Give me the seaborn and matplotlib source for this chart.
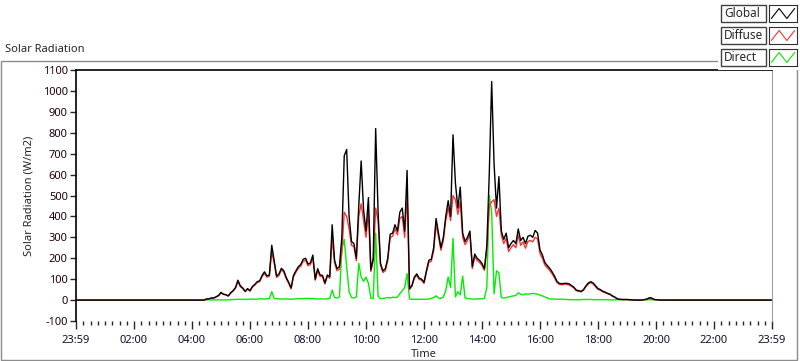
import numpy as np
import pandas as pd
import matplotlib
matplotlib.use("Agg")
import matplotlib.pyplot as plt
from matplotlib.patches import Rectangle
import seaborn as sns

# 5-minute samples, first sample at 04:25, last at 20:10
START_TIME = "04:25"
SERIES = ["Global", "Diffuse", "Direct"]
COLORS = ["#000000", "#ff3333", "#00ee00"]

global_rad = [
    0, 5, 6, 10, 10, 16, 22,
    37, 28, 26, 20, 35, 45, 60, 95, 68, 58, 42, 55,
    45, 65, 75, 88, 92, 118, 135, 115, 120, 262, 190, 115,
    125, 152, 140, 108, 85, 58, 118, 140, 160, 170, 195, 200,
    172, 178, 215, 100, 150, 120, 118, 82, 120, 112, 360, 190,
    150, 160, 300, 690, 720, 400, 280, 270, 200, 450, 665, 430,
    330, 490, 145, 200, 820, 420, 175, 140, 150, 200, 315, 320,
    360, 330, 420, 440, 330, 620, 55, 70, 110, 125, 105, 100,
    85, 140, 190, 195, 250, 390, 320, 250, 300, 400, 475, 400,
    790, 560, 440, 540, 320, 280, 300, 330, 160, 220, 200, 190,
    175, 150, 260, 600, 1045, 650, 440, 590, 330, 290, 320, 250,
    270, 285, 270, 340, 285, 300, 270, 305, 310, 300, 333, 320,
    240, 215, 180, 165, 152, 135, 115, 90, 80, 78, 80, 80,
    78, 70, 62, 48, 45, 42, 50, 68, 82, 88, 82, 68,
    55, 50, 42, 38, 32, 28, 20, 14, 6, 4, 3, 3,
    3, 2, 1, 0, 0, 0, 0, 2, 4, 10, 11, 4,
    2, 1, 0,
]

diffuse_rad = [
    0, 5, 6, 9, 10, 15, 21,
    34, 27, 25, 19, 33, 43, 57, 88, 64, 55, 40, 52,
    43, 62, 72, 84, 88, 112, 128, 110, 114, 230, 178, 108,
    118, 145, 133, 102, 80, 54, 112, 133, 152, 162, 185, 190,
    164, 170, 200, 95, 142, 113, 112, 77, 113, 105, 300, 178,
    140, 148, 230, 420, 400, 340, 262, 255, 188, 400, 460, 380,
    300, 420, 136, 190, 440, 380, 165, 132, 140, 188, 300, 305,
    340, 312, 390, 400, 300, 510, 50, 66, 104, 118, 99, 95,
    80, 133, 180, 185, 235, 365, 300, 238, 285, 380, 440, 380,
    500, 480, 410, 470, 300, 265, 285, 315, 150, 208, 190, 180,
    165, 142, 240, 450, 470, 480, 400, 440, 310, 270, 295, 232,
    250, 265, 250, 310, 262, 278, 248, 280, 285, 278, 300, 292,
    222, 200, 168, 154, 142, 126, 107, 84, 75, 73, 75, 75,
    73, 66, 58, 45, 42, 39, 47, 64, 77, 83, 77, 64,
    51, 47, 39, 35, 30, 26, 18, 13, 5, 3, 2, 2,
    2, 1, 1, 0, 0, 0, 0, 2, 3, 8, 9, 3,
    1, 1, 0,
]

direct_rad = [
    0, 1, 1, 1, 1, 1, 1,
    1, 1, 1, 1, 2, 3, 3, 4, 3, 4, 3, 4,
    4, 5, 4, 5, 6, 6, 5, 6, 7, 40, 8, 6,
    6, 5, 5, 6, 5, 4, 5, 6, 7, 6, 7, 8,
    8, 7, 8, 6, 5, 6, 6, 5, 6, 8, 48, 12,
    10, 15, 240, 290, 160, 40, 12, 10, 15, 175, 110, 90,
    110, 80, 10, 8, 320, 20, 6, 8, 10, 12, 10, 14,
    12, 14, 30, 45, 60, 127, 5, 4, 4, 4, 4, 4,
    4, 4, 5, 8, 12, 20, 10, 8, 15, 45, 110, 60,
    295, 15, 40, 25, 115, 10, 8, 6, 5, 5, 5, 6,
    6, 8, 60, 500, 420, 30, 140, 130, 12, 10, 12, 15,
    18, 20, 22, 35, 28, 25, 30, 28, 30, 32, 30, 28,
    24, 20, 15, 10, 6, 5, 5, 4, 4, 4, 3, 3,
    2, 2, 2, 2, 2, 2, 3, 3, 3, 3, 2, 2,
    2, 2, 2, 2, 2, 1, 1, 1, 2, 2, 2, 2,
    2, 2, 1, 0, 0, 0, 0, 1, 1, 2, 2, 1,
    1, 1, 0,
]

# night readings at the ends of the day
DAY_START_H = 0.0
DAY_END_H = 23 + 59 / 60
NIGHT_VALUE = 0

x_tick_labels = ["23:59", "02:00", "04:00", "06:00", "08:00", "10:00", "12:00",
                 "14:00", "16:00", "18:00", "20:00", "22:00", "23:59"]
y_ticks = list(range(-100, 1101, 100))

# build long table
h0, m0 = map(int, START_TIME.split(":"))
hours = h0 + m0 / 60 + np.arange(len(global_rad)) * 5 / 60
frames = []
for name, vals in zip(SERIES, [global_rad, diffuse_rad, direct_rad]):
    t = np.concatenate([[DAY_START_H], hours, [DAY_END_H]])
    v = np.concatenate([[NIGHT_VALUE], vals, [NIGHT_VALUE]])
    frames.append(pd.DataFrame({"hour": t, "value": v, "series": name}))
df = pd.concat(frames, ignore_index=True)

sns.set_style("white")
plt.rcParams["font.family"] = ["Noto Sans", "DejaVu Sans"]
plt.rcParams["font.size"] = 8

fig = plt.figure(figsize=(8, 3.61), dpi=100)
ax = fig.add_axes([76 / 800, 1 - 321 / 361, (772 - 76) / 800, (321 - 70) / 361])

# direct first, global on top
for name, col in zip(reversed(SERIES), reversed(COLORS)):
    sns.lineplot(data=df[df.series == name], x="hour", y="value", color=col,
                 lw=1, ax=ax, estimator=None, legend=False)

ax.set_xlim(0, 24)
ax.set_ylim(-100, 1100)
ax.set_yticks(y_ticks)
ax.set_yticklabels([str(v) for v in y_ticks], color="#200010")
ax.set_xticks(np.arange(0, 25, 2))
ax.set_xticklabels(x_tick_labels, color="#101030")
ax.set_xticks(np.arange(0, 24.01, 0.25), minor=True)
ax.tick_params(axis="y", direction="out", length=4, width=1, pad=2, left=True)
ax.tick_params(axis="x", which="major", direction="out", length=6, width=1, pad=4, bottom=True)
ax.tick_params(axis="x", which="minor", direction="out", length=3, width=1, bottom=True)
ax.set_xlabel("Time", labelpad=2)
ax.set_ylabel("Solar Radiation (W/m2)", labelpad=6)

for side in ["left", "top"]:
    ax.spines[side].set_color("black")
    ax.spines[side].set_linewidth(1.2)
ax.spines["right"].set_color("#a0a0a0")
ax.spines["bottom"].set_visible(False)

# panel frame and caption
fig.patches.append(Rectangle((1 / 800, 1 / 361), 796 / 800, (300 - 1) / 361,
                             transform=fig.transFigure, fill=False,
                             edgecolor="#8c8c8c", lw=1, zorder=1))
fig.text(5 / 800, 1 - 50 / 361, "Solar Radiation", ha="left", va="center", fontsize=8)

# legend at top right, on a white patch that hides the frame
fig.patches.append(Rectangle((718 / 800, 1 - 70 / 361), 82 / 800, 70 / 361,
                             transform=fig.transFigure, facecolor="white",
                             edgecolor="none", zorder=2))
for i, (name, col) in enumerate(zip(SERIES, COLORS)):
    y_top = 5 + i * 22
    fig.patches.append(Rectangle((721 / 800, 1 - (y_top + 17) / 361), 45 / 800, 17 / 361,
                                 transform=fig.transFigure, facecolor="white",
                                 edgecolor="#404040", lw=1, zorder=3))
    fig.text(724 / 800, 1 - (y_top + 8.5) / 361, name, ha="left", va="center",
             fontsize=8.5, zorder=4)
    lax = fig.add_axes([769 / 800, 1 - (y_top + 17) / 361, 28 / 800, 17 / 361])
    lax.set_zorder(5)
    lax.plot([0, 1, 2, 3], [0, 1, 0, 1], color=col, lw=0.8)
    lax.set_xlim(-0.3, 3.3)
    lax.set_ylim(-0.35, 1.35)
    lax.set_xticks([])
    lax.set_yticks([])
    for s in lax.spines.values():
        s.set_color("#303030")

fig.savefig("out.png", dpi=100)
